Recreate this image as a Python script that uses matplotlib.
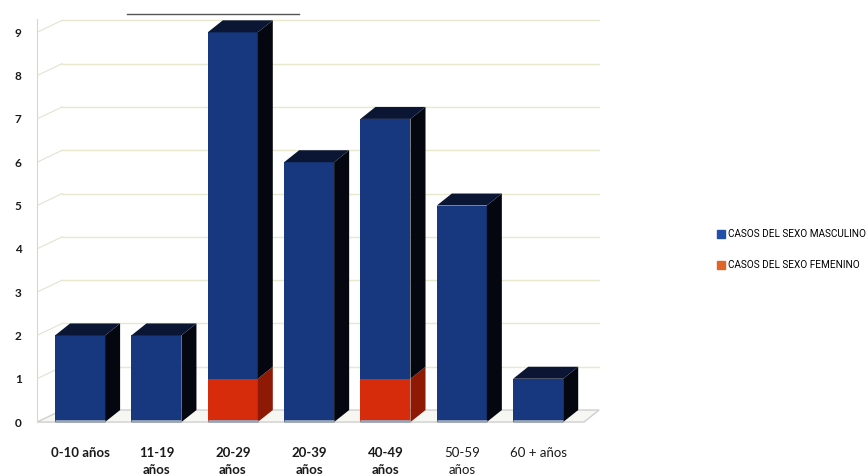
import matplotlib
matplotlib.use("Agg")
import matplotlib.pyplot as plt
from matplotlib.patches import Polygon
from matplotlib.lines import Line2D
import numpy as np

# Casos por grupo de edad y sexo
categorias = ["0-10 años", "11-19\naños", "20-29\naños", "20-39\naños",
              "40-49\naños", "50-59\naños", "60 + años"]
negrita = [True, True, True, True, True, False, False]
masculino = [2, 2, 8, 6, 6, 5, 1]
femenino = [0, 0, 1, 0, 1, 0, 0]
niveles = list(range(0, 10))

serie_m = "CASOS DEL SEXO MASCULINO"
serie_f = "CASOS DEL SEXO FEMENINO"

azul, azul_lado, azul_tope = "#17377f", "#04070f", "#0a1634"
rojo, rojo_lado = "#d62c0c", "#8e1a06"

plt.rcParams["font.family"] = ["Lato", "DejaVu Sans"]
fuente_leyenda = {"family": ["Roboto", "DejaVu Sans"], "size": 7.2}

fig = plt.figure(figsize=(8.68, 4.76), dpi=100)
ax = fig.add_axes([37 / 868, (476 - 430.7) / 476, 563 / 868, 415.7 / 476])
x0, x1 = -0.564, 6.81
ax.set_xlim(x0, x1)
ax.set_ylim(-0.2, 9.4)

ancho = 0.655      # front face width (category units)
dx, dy = 0.197, 0.277   # bar depth offset
dxw = 0.33          # wall depth offset

# floor
ax.add_patch(Polygon([(x0, 0), (6.6, 0), (6.6 + dxw * 0.6, dy), (x0 + dxw, dy)],
                     closed=True, facecolor="#f6f6f2", edgecolor="#cfcfcf",
                     linewidth=1.0, zorder=0))

# back-wall grid and left-wall diagonals
for k in niveles[1:]:
    ax.plot([x0 + dxw, x1], [k + dy, k + dy], color="#e8e8cf", lw=1.0, zorder=0)
    ax.plot([x0, x0 + dxw], [k, k + dy], color="#e2e2d4", lw=0.8, zorder=0)
ax.plot([0.62, 2.87], [9.4 + 0.02, 9.4 + 0.02], color="#555555", lw=1.0,
        zorder=0, clip_on=False)

pos = np.arange(len(categorias))
ax.bar(pos, femenino, width=ancho, color=rojo, zorder=2, label=serie_f)
ax.bar(pos, masculino, bottom=femenino, width=ancho, color=azul, zorder=2,
       label=serie_m)

for i in pos:
    xl, xr = i - ancho / 2, i + ancho / 2
    f, m = femenino[i], masculino[i]
    tope = f + m
    if f > 0:
        ax.add_patch(Polygon([(xr, 0), (xr + dx, dy), (xr + dx, f + dy), (xr, f)],
                             closed=True, facecolor=rojo_lado, edgecolor="none",
                             zorder=2))
    ax.add_patch(Polygon([(xr, f), (xr + dx, f + dy), (xr + dx, tope + dy), (xr, tope)],
                         closed=True, facecolor=azul_lado, edgecolor="none", zorder=2))
    ax.add_patch(Polygon([(xl, tope), (xl + dx, tope + dy), (xr + dx, tope + dy), (xr, tope)],
                         closed=True, facecolor=azul_tope, edgecolor="none", zorder=2))
    # light strip at the base of the front face
    ax.plot([xl, xr], [0.03, 0.03], color="#9aa6b8", lw=2, zorder=3,
            solid_capstyle="butt")

for s in ["top", "right", "bottom"]:
    ax.spines[s].set_visible(False)
ax.spines["left"].set_color("#d8d8c8")
ax.spines["left"].set_bounds(0, 9.3)

ax.set_yticks(niveles)
ax.set_yticklabels([str(v) for v in niveles], fontsize=8.5, fontweight="bold",
                   color="#1a1a1a")
ax.tick_params(axis="y", length=0, pad=11)

ax.set_xticks(pos)
ax.set_xticklabels(categorias, fontsize=9.5, color="#1a1a1a", linespacing=1.45)
for lab, b in zip(ax.get_xticklabels(), negrita):
    lab.set_fontweight("bold" if b else "normal")
ax.tick_params(axis="x", length=0, pad=12)

handles = [Line2D([], [], marker="s", ls="none", color="#1f4fa8", markersize=6),
           Line2D([], [], marker="s", ls="none", color="#e06428", markersize=6)]
fig.legend(handles, [serie_m, serie_f], loc="upper left",
           bbox_to_anchor=(712 / 868, 1 - 224 / 476), frameon=False,
           prop=fuente_leyenda, handlelength=0.8, handletextpad=0.35,
           labelspacing=2.1, borderpad=0)

fig.savefig("out.png", dpi=100)
